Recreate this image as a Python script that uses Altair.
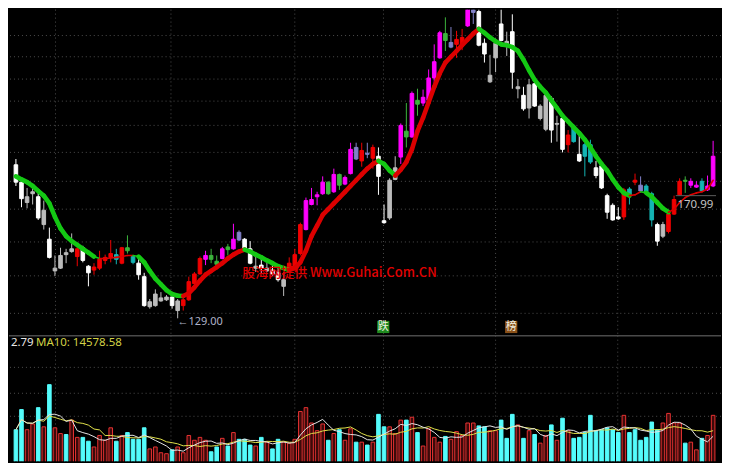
import altair as alt
import pandas as pd

# ---------------- data ----------------
opens = [184.7, 178.4, 171.0, 174.2, 173.1, 163.0, 157.7, 146.2, 147.2, 152.8,
         153.2, 151.4, 154.6, 147.9, 146.5, 147.2, 150.0, 151.1, 152.1, 149.0,
         154.6, 151.4, 149.0, 144.1, 133.2, 133.6, 135.3, 135.7, 136.7, 131.8,
         133.6, 135.7, 141.6, 145.1, 150.4, 151.8, 149.7, 150.7, 154.9, 154.2,
         160.2, 157.7, 154.2, 147.2, 148.3, 146.2, 146.5, 145.5, 140.6, 146.5,
         147.6, 152.5, 161.2, 170.3, 173.1, 174.2, 178.4, 174.9, 181.2, 177.7,
         181.5, 191.0, 186.1, 188.9, 187.1, 187.8, 164.4, 165.4, 179.4, 187.5,
         196.9, 194.8, 208.1, 207.1, 208.1, 216.2, 223.5, 232.3, 227.4, 228.4,
         228.1, 235.1, 240.0, 240.3, 228.8, 214.8, 223.5, 235.8, 229.5, 233.0,
         212.3, 209.9, 205.3, 214.1, 201.5, 197.6, 208.8, 199.4, 201.5, 192.0,
         198.3, 188.5, 192.0, 192.0, 183.6, 184.3, 173.5, 170.0, 165.8, 165.8,
         175.9, 179.1, 177.3, 177.0, 174.2, 163.0, 158.8, 160.5, 166.8, 173.8,
         179.1, 177.3, 176.6, 178.7, 175.6, 177.0]
highs = [186.8, 179.4, 176.3, 177.0, 174.5, 171.7, 161.9, 151.8, 154.6, 154.2,
         159.8, 155.3, 155.3, 148.3, 149.0, 153.5, 152.1, 157.4, 154.2, 154.9,
         159.1, 151.8, 151.8, 145.5, 136.0, 139.5, 138.5, 137.4, 137.4, 136.0,
         136.4, 144.1, 145.8, 151.4, 153.5, 154.2, 151.8, 154.9, 156.0, 163.3,
         160.9, 158.1, 157.0, 151.8, 150.7, 149.3, 148.3, 147.2, 145.8, 151.1,
         154.2, 163.7, 172.8, 176.3, 174.9, 180.5, 178.7, 183.3, 181.5, 180.8,
         192.7, 192.7, 192.7, 192.7, 192.0, 191.0, 170.3, 179.8, 187.8, 199.7,
         207.1, 211.3, 212.3, 212.0, 219.3, 228.4, 233.3, 238.2, 234.7, 233.3,
         234.0, 244.5, 242.8, 243.8, 230.5, 224.6, 230.5, 242.1, 233.0, 239.3,
         215.8, 213.0, 215.8, 214.8, 206.7, 210.6, 209.5, 202.5, 202.2, 197.3,
         199.4, 195.5, 192.7, 193.8, 186.1, 185.0, 174.2, 170.7, 169.3, 176.3,
         176.6, 181.5, 180.5, 177.7, 174.9, 163.7, 164.0, 167.5, 173.5, 179.8,
         180.5, 179.8, 178.7, 179.8, 180.8, 193.4]
lows = [177.0, 169.3, 168.9, 170.3, 164.7, 161.2, 150.7, 144.4, 146.9, 149.0,
        152.8, 147.9, 149.3, 140.6, 144.8, 146.5, 148.6, 149.3, 148.6, 148.6,
        152.5, 148.6, 143.0, 133.2, 132.5, 133.2, 135.0, 135.3, 132.5, 129.0,
        131.8, 135.3, 140.9, 144.8, 148.3, 149.0, 147.9, 150.4, 151.8, 153.9,
        157.0, 153.5, 148.6, 145.8, 145.5, 145.8, 144.4, 142.3, 137.1, 145.8,
        147.2, 151.8, 160.9, 170.0, 170.0, 173.8, 173.8, 174.5, 175.6, 177.3,
        181.2, 186.4, 184.0, 187.1, 183.3, 173.8, 163.3, 164.7, 179.1, 185.0,
        191.0, 194.5, 202.5, 206.0, 207.8, 213.4, 223.2, 226.0, 227.0, 223.5,
        226.3, 234.7, 235.8, 227.7, 221.8, 214.4, 218.3, 229.5, 224.2, 212.3,
        208.8, 204.3, 201.5, 205.7, 200.8, 196.9, 192.7, 193.1, 189.2, 189.2,
        192.7, 185.7, 180.5, 185.0, 179.8, 175.9, 165.1, 164.4, 164.7, 164.7,
        170.3, 177.3, 174.5, 174.5, 162.3, 155.3, 158.1, 159.8, 166.5, 173.5,
        174.5, 176.3, 176.3, 174.9, 175.2, 176.6]
closes = [178.4, 172.4, 173.1, 174.9, 165.4, 168.2, 151.1, 147.2, 151.8, 152.1,
          154.2, 154.2, 150.0, 145.5, 147.6, 150.4, 151.1, 152.5, 150.4, 154.6,
          153.5, 149.3, 144.8, 133.6, 135.0, 137.8, 136.4, 136.7, 133.6, 135.3,
          135.7, 142.3, 145.1, 150.7, 151.8, 150.4, 148.6, 154.2, 153.9, 157.7,
          157.4, 153.9, 149.0, 147.9, 147.2, 147.2, 145.1, 143.0, 143.0, 149.0,
          152.1, 163.0, 171.7, 172.1, 173.8, 178.4, 174.2, 181.2, 177.3, 180.1,
          190.3, 186.8, 189.9, 188.5, 191.0, 180.5, 163.7, 179.1, 183.6, 199.0,
          194.8, 210.6, 206.7, 209.2, 216.2, 222.1, 232.6, 229.8, 229.1, 230.2,
          230.9, 242.8, 241.0, 228.1, 224.9, 217.2, 228.8, 229.8, 228.1, 218.3,
          213.0, 205.0, 213.7, 206.0, 206.0, 209.9, 197.3, 199.7, 190.3, 195.5,
          193.1, 186.1, 187.8, 185.7, 180.8, 176.3, 167.5, 164.7, 165.1, 175.6,
          173.8, 178.4, 175.2, 174.9, 164.7, 157.0, 163.0, 166.8, 172.1, 178.7,
          178.7, 178.7, 177.3, 175.2, 177.0, 187.8]
candle_kind = ["white", "white", "grey", "grey", "white", "grey", "white", "grey", "grey", "grey",
               "grey", "red", "white", "white", "red", "red", "red", "red", "cyan", "red",
               "green", "cyan", "white", "white", "grey", "grey", "grey", "grey", "white", "grey",
               "red", "red", "red", "red", "magenta", "green", "green", "magenta", "green", "magenta",
               "slate", "white", "white", "grey", "white", "grey", "white", "white", "grey", "red",
               "red", "red", "magenta", "magenta", "magenta", "magenta", "green", "magenta", "green", "magenta",
               "magenta", "slate", "red", "slate", "red", "white", "white", "grey", "grey", "magenta",
               "green", "magenta", "green", "magenta", "magenta", "magenta", "magenta", "green", "slate", "red",
               "red", "magenta", "slate", "white", "white", "grey", "grey", "white", "grey", "white",
               "grey", "white", "grey", "white", "grey", "grey", "white", "grey", "white", "red",
               "cyan", "white", "cyan", "cyan", "white", "white", "white", "white", "white", "red",
               "cyan", "red", "slate", "cyan", "cyan", "white", "grey", "red", "red", "red",
               "green", "magenta", "magenta", "cyan", "magenta", "magenta"]
volumes = [15300, 21600, 15300, 17100, 22200, 16200, 29400, 15900, 14100, 13800,
           18300, 12900, 12900, 11700, 9900, 13500, 12000, 15900, 11700, 13500,
           14400, 12300, 12300, 15900, 9300, 9900, 8100, 7800, 9000, 9900,
           8100, 13500, 12000, 12900, 12000, 8400, 9900, 12600, 10200, 14400,
           12300, 12300, 10500, 10200, 12900, 11400, 9300, 12300, 11400, 11100,
           12300, 21000, 22200, 17400, 15000, 17100, 12000, 14100, 15300, 12000,
           15600, 11400, 11400, 10500, 11400, 20100, 16200, 16200, 14100, 18300,
           18300, 19200, 14400, 10200, 15600, 12900, 11400, 13200, 12300, 14700,
           13500, 17400, 17400, 16500, 16200, 15000, 15000, 18300, 12600, 20100,
           16800, 12600, 15000, 13800, 11100, 13500, 16800, 12000, 18900, 15000,
           12600, 12900, 14400, 19800, 15000, 15300, 15900, 15300, 14400, 19800,
           14400, 15300, 12000, 12900, 17700, 15300, 17400, 20400, 17400, 17400,
           11100, 11400, 9000, 12600, 13500, 19800]
trend_line = [180.5, 179.4, 178.4, 177.0, 175.2, 173.5, 170.7, 165.8, 161.6, 158.8,
              157.0, 155.6, 154.2, 152.8, 151.4, 150.7, 150.7, 150.9, 151.1, 151.4,
              151.8, 151.8, 151.4, 149.3, 146.2, 143.4, 141.3, 139.2, 137.8, 137.2,
              137.1, 138.1, 140.2, 142.7, 144.8, 146.2, 147.6, 149.0, 150.7, 152.1,
              153.2, 153.9, 153.2, 152.1, 151.1, 150.0, 149.0, 147.9, 147.2, 146.5,
              147.2, 149.3, 153.5, 158.8, 162.6, 166.5, 168.6, 170.7, 172.8, 174.9,
              177.0, 179.1, 181.2, 183.3, 185.0, 186.1, 185.0, 182.6, 180.8, 182.9,
              185.7, 190.3, 196.9, 201.8, 207.4, 213.0, 217.9, 221.8, 223.9, 226.0,
              228.1, 230.2, 232.3, 234.0, 232.6, 230.9, 229.5, 228.4, 228.1, 227.4,
              226.0, 222.8, 219.0, 215.5, 213.0, 210.9, 208.1, 205.3, 202.5, 200.4,
              198.3, 196.2, 193.8, 191.0, 187.8, 185.0, 182.6, 179.4, 176.6, 174.5,
              173.5, 173.8, 174.9, 174.5, 173.1, 171.0, 168.9, 167.5, 168.6, 171.0,
              172.8, 173.8, 174.5, 174.9, 175.9, 179.1]
trend_strong = [1, 1, 1, 1, 1, 1, 1, 1, 1, 1,
                1, 1, 1, 1, 0, 0, 0, 0, 0, 0,
                0, 0, 1, 1, 1, 1, 1, 1, 1, 1,
                1, 1, 1, 1, 1, 1, 1, 1, 1, 1,
                1, 1, 1, 1, 1, 1, 1, 1, 1, 1,
                1, 1, 1, 1, 1, 1, 1, 1, 1, 1,
                1, 1, 1, 1, 1, 1, 1, 1, 1, 1,
                1, 1, 1, 1, 1, 1, 1, 1, 1, 1,
                1, 1, 1, 1, 1, 1, 1, 1, 1, 1,
                1, 1, 1, 1, 1, 1, 1, 1, 1, 1,
                1, 1, 1, 1, 1, 1, 1, 1, 1, 1,
                0, 0, 0, 1, 1, 1, 1, 0, 0, 0,
                0, 0, 0, 0, 0, 0]
price_grid = [231.6, 223.9, 215.8, 207.8, 199.0, 189.2, 178.7, 168.6, 156.7, 144.4, 130.8]
month_marks = [7.1, 27.8, 50.0, 65.9, 86.0, 107.9]
volume_grid = [34800, 26700, 19500]

kinds = ["white", "grey", "red", "magenta", "green", "cyan", "slate"]
kind_colors = ["#ffffff", "#bcbcbc", "#f00000", "#ff00ff", "#3cb43c", "#14b4b4", "#8282c8"]

# ---------------- tables ----------------
n = len(opens)
idx = list(range(n))
kdf = pd.DataFrame({"i": idx, "open": opens, "high": highs, "low": lows,
                    "close": closes, "kind": candle_kind, "vol": volumes})
kdf["top"] = kdf[["open", "close"]].max(axis=1)
kdf["bot"] = kdf[["open", "close"]].min(axis=1)
kdf["dir"] = ["up" if c >= o else "down" for o, c in zip(opens, closes)]

tdf = pd.DataFrame({"i": idx[:-1], "i2": idx[1:], "p": trend_line[:-1],
                    "p2": trend_line[1:], "w": trend_strong[:-1]})
tdf["trend"] = ["rise" if b >= a else "fall" for a, b in zip(trend_line[:-1], trend_line[1:])]

W, H1, H2 = 714, 325, 126
xs = alt.Scale(domain=[-0.345, 125.52], nice=False, zero=False)
ps = alt.Scale(domain=[123.4, 241.0], nice=False, zero=False)
vs = alt.Scale(domain=[5400, 44700], nice=False, zero=False)
X = alt.X("i:Q", scale=xs, axis=None)
kind_scale = alt.Scale(domain=kinds, range=kind_colors)
GRID = "#4c4c4c"
CJK = "Noto Sans CJK SC"

# ---------------- price panel ----------------
hgrid = alt.Chart(pd.DataFrame({"p": price_grid})).mark_rule(
    color=GRID, strokeDash=[1, 3], strokeWidth=1).encode(y=alt.Y("p:Q", scale=ps, axis=None))
vgrid = alt.Chart(pd.DataFrame({"i": month_marks})).mark_rule(
    color=GRID, strokeDash=[1, 3], strokeWidth=1).encode(x=X)

wicks = alt.Chart(kdf).mark_rule(strokeWidth=1, clip=True).encode(
    x=X, y=alt.Y("low:Q", scale=ps, axis=None), y2="high:Q",
    color=alt.Color("kind:N", scale=kind_scale, legend=None))
bodies = alt.Chart(kdf).mark_bar(size=3.6, strokeWidth=1, clip=True).encode(
    x=X, y=alt.Y("bot:Q", scale=ps, axis=None), y2="top:Q",
    color=alt.Color("kind:N", scale=kind_scale, legend=None),
    stroke=alt.Stroke("kind:N", scale=kind_scale, legend=None))

trend = alt.Chart(tdf).mark_rule(strokeCap="round", clip=True).encode(
    x=X, x2="i2:Q", y=alt.Y("p:Q", scale=ps, axis=None), y2="p2:Q",
    color=alt.Color("trend:N", scale=alt.Scale(domain=["rise", "fall"], range=["#dc0000", "#14c814"]), legend=None),
    strokeWidth=alt.StrokeWidth("w:Q", scale=alt.Scale(domain=[0, 1], range=[1.6, 4.6]), legend=None))

water = alt.Chart(pd.DataFrame({"i": [40.6], "p": [145.6], "t": ["股海网提供 Www.Guhai.Com.CN"]})).mark_text(
    align="left", baseline="middle", font=CJK, fontSize=13, fontWeight=500, color="#e00000").encode(
    x=X, y=alt.Y("p:Q", scale=ps, axis=None), text="t:N")
low_lbl = alt.Chart(pd.DataFrame({"i": [28.97], "p": [127.6], "t": ["←129.00"]})).mark_text(
    align="left", baseline="middle", font="Noto Sans", fontSize=11, color="#aeb2c8").encode(
    x=X, y=alt.Y("p:Q", scale=ps, axis=None), text="t:N")
last_lbl = alt.Chart(pd.DataFrame({"i": [118.6], "p": [170.0], "t": ["170.99"]})).mark_text(
    align="left", baseline="middle", font="Noto Sans", fontSize=11.5, color="#c4c4c4").encode(
    x=X, y=alt.Y("p:Q", scale=ps, axis=None), text="t:N")
last_line = alt.Chart(pd.DataFrame({"i": [118.3], "i2": [125.52], "p": [173.5]})).mark_rule(
    color="#5c5c5c", strokeWidth=1).encode(x=X, x2="i2:Q", y=alt.Y("p:Q", scale=ps, axis=None))

marks_df = pd.DataFrame({"i": [65.86, 88.8], "p": [125.85, 125.85], "t": ["跌", "榜"], "k": ["fall", "list"]})
boxes = alt.Chart(marks_df).mark_square(size=150, opacity=1, filled=True).encode(
    x=X, y=alt.Y("p:Q", scale=ps, axis=None),
    color=alt.Color("k:N", scale=alt.Scale(domain=["fall", "list"], range=["#1f8a1f", "#8a5018"]), legend=None))
box_txt = alt.Chart(marks_df).mark_text(font=CJK, fontSize=11, color="#f0f0e0", baseline="middle").encode(
    x=X, y=alt.Y("p:Q", scale=ps, axis=None), text="t:N")

price = alt.layer(hgrid, vgrid, wicks, bodies, trend, water, low_lbl, last_line, last_lbl, boxes, box_txt).properties(
    width=W, height=H1).resolve_scale(color="independent", stroke="independent")

# ---------------- volume panel ----------------
VY = alt.Y("vol:Q", scale=vs, axis=None)
vhgrid = alt.Chart(pd.DataFrame({"v": volume_grid})).mark_rule(
    color=GRID, strokeDash=[1, 3], strokeWidth=1).encode(y=alt.Y("v:Q", scale=vs, axis=None))
vvgrid = alt.Chart(pd.DataFrame({"i": month_marks})).mark_rule(
    color=GRID, strokeDash=[1, 3], strokeWidth=1).encode(x=X)
vol_up = alt.Chart(kdf).transform_filter(alt.datum.dir == "up").mark_bar(
    size=3.6, fill="#3c0a0a", stroke="#e83232", strokeWidth=1, clip=True).encode(x=X, y=VY, y2=alt.datum(0))
vol_dn = alt.Chart(kdf).transform_filter(alt.datum.dir == "down").mark_bar(
    size=3.6, fill="#54fcfc", stroke="#54fcfc", strokeWidth=1, clip=True).encode(x=X, y=VY, y2=alt.datum(0))
ma = alt.Chart(kdf).transform_window(
    ma5="mean(vol)", frame=[-4, 0], sort=[alt.SortField("i")]).transform_window(
    ma10="mean(vol)", frame=[-9, 0], sort=[alt.SortField("i")])
ma5 = ma.mark_line(color="#e4e4e4", strokeWidth=1, clip=True).encode(x=X, y=alt.Y("ma5:Q", scale=vs, axis=None))
ma10 = ma.mark_line(color="#e0e04a", strokeWidth=1, clip=True).encode(x=X, y=alt.Y("ma10:Q", scale=vs, axis=None))
sep = alt.Chart(pd.DataFrame({"v": [44700]})).mark_rule(color="#4a4a4a", strokeWidth=1.5).encode(
    y=alt.Y("v:Q", scale=vs, axis=None))
t1 = alt.Chart(pd.DataFrame({"i": [-0.9], "v": [42300], "t": ["2.79"]})).mark_text(
    align="left", baseline="middle", font="Noto Sans", fontSize=11.5, color="#e8e8e8").encode(
    x=X, y=alt.Y("v:Q", scale=vs, axis=None), text="t:N")
t2 = alt.Chart(pd.DataFrame({"i": [3.6], "v": [42300], "t": ["MA10: 14578.58"]})).mark_text(
    align="left", baseline="middle", font="Noto Sans", fontSize=11.5, color="#d2d246").encode(
    x=X, y=alt.Y("v:Q", scale=vs, axis=None), text="t:N")

volume = alt.layer(vhgrid, vvgrid, vol_up, vol_dn, ma10, ma5, sep, t1, t2).properties(width=W, height=H2)

chart = alt.vconcat(price, volume, spacing=0).properties(
    background="#000000", padding=0).configure_view(stroke=None)

chart.save("out.html", embed_options={"renderer": "svg", "actions": False})
